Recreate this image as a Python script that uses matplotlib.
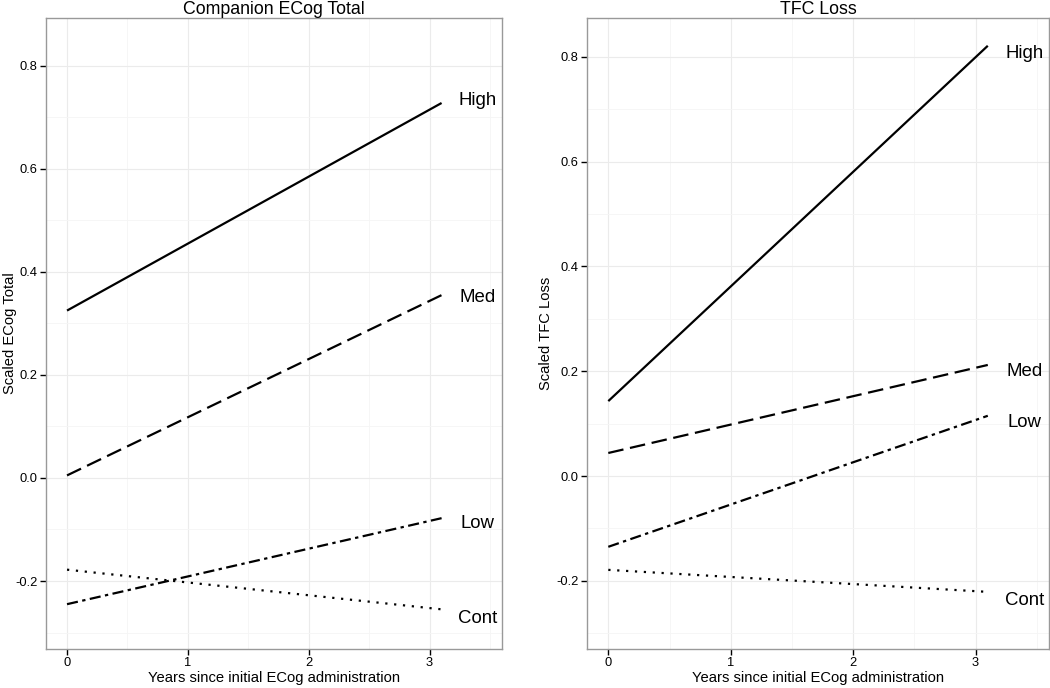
import matplotlib
matplotlib.use("Agg")
import matplotlib.pyplot as plt

plt.rcParams['font.family'] = ['Liberation Sans', 'DejaVu Sans']

groups = ["High", "Med", "Low", "Cont"]
styles = {"High": "-", "Med": (0, (7, 3)), "Low": (0, (5, 2, 1.5, 2)), "Cont": (0, (1, 3))}

x_start = 0.0
x_end = 3.1

# Companion ECog Total
ecog_start = [0.325, 0.005, -0.245, -0.178]
ecog_end = [0.728, 0.355, -0.078, -0.255]
ecog_label_y = [0.732, 0.351, -0.089, -0.272]

# TFC Loss
tfc_start = [0.143, 0.044, -0.135, -0.179]
tfc_end = [0.821, 0.212, 0.115, -0.221]
tfc_label_y = [0.806, 0.199, 0.103, -0.238]

label_x = 3.4
xticks = [0, 1, 2, 3]
yticks = [-0.2, 0.0, 0.2, 0.4, 0.6, 0.8]
ytick_labels = ["-0.2", "0.0", "0.2", "0.4", "0.6", "0.8"]

fig = plt.figure(figsize=(10.5, 6.88), dpi=100)
ax1 = fig.add_axes([46/1050, 39/688, 456/1050, 631/688])
ax2 = fig.add_axes([587/1050, 39/688, 462/1050, 631/688])

panels = [
    (ax1, "Companion ECog Total", "Scaled ECog Total", ecog_start, ecog_end, ecog_label_y, (-0.332, 0.893), -0.064),
    (ax2, "TFC Loss", "Scaled TFC Loss", tfc_start, tfc_end, tfc_label_y, (-0.33, 0.874), -0.073),
]

for ax, title, ylabel, ys, ye, ly, ylim, ylab_x in panels:
    for g, s, e, l in zip(groups, ys, ye, ly):
        ax.plot([x_start, x_end], [s, e], color="black", linewidth=1.6,
                linestyle=styles[g], solid_capstyle="butt", dash_capstyle="butt")
        ax.text(label_x, l, g, ha="center", va="center", fontsize=13.4)
    ax.set_xlim(-0.174, 3.6)
    ax.set_ylim(*ylim)
    ax.set_xticks(xticks)
    ax.set_xticks([0.5, 1.5, 2.5, 3.5], minor=True)
    ax.set_yticks(yticks)
    ax.set_yticklabels(ytick_labels)
    ax.set_yticks([-0.3, -0.1, 0.1, 0.3, 0.5, 0.7], minor=True)
    ax.grid(True, which="major", color="#ebebeb", linewidth=0.8)
    ax.grid(True, which="minor", color="#f5f5f5", linewidth=0.6)
    ax.set_axisbelow(True)
    ax.tick_params(which="minor", length=0)
    ax.tick_params(which="major", length=4, width=1, color="black", labelsize=9.3, pad=2)
    for sp in ax.spines.values():
        sp.set_color("#999999")
        sp.set_linewidth(1)
    ax.set_title(title, fontsize=12.8, pad=2)
    ax.set_xlabel("Years since initial ECog administration", fontsize=10.6, labelpad=1)
    ax.set_ylabel(ylabel, fontsize=10.6)
    ax.yaxis.set_label_coords(ylab_x, 0.5)

fig.savefig("out.png", dpi=100)
